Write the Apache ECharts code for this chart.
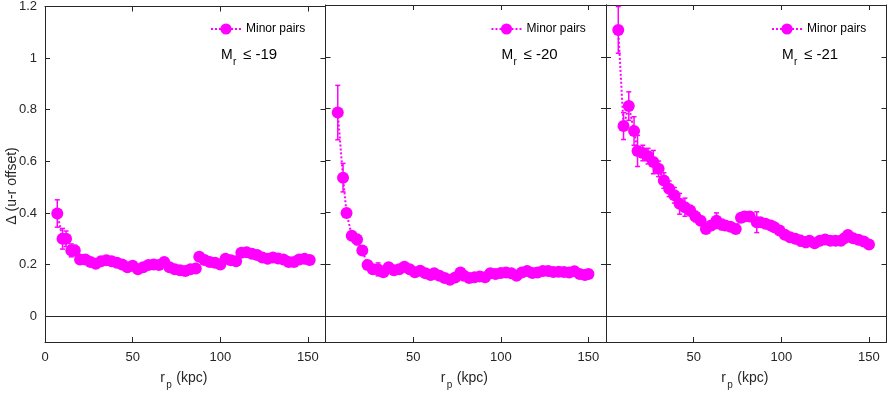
<!DOCTYPE html>
<html>
<head>
<meta charset="utf-8">
<script src="https://cdn.jsdelivr.net/npm/echarts@6/dist/echarts.min.js"></script>
<style>
html, body { margin: 0; padding: 0; background: #fff; }
#chart { width: 888px; height: 393px; }
</style>
</head>
<body>
<div id="chart"></div>
<script>
var byId = function(id){
	return document.getElementById(id);
};

// M_r <= -19
var rp19 = [7,10,12,15,17,20,23,26,29,32,35,38,41,44,47,50,53,56,59,62,65,68,71,74,77,80,83,86,88,91,94,97,100,103,106,109,112,115,118,121,124,127,130,133,136,139,142,145,148,151];
var d19 = [0.398,0.30,0.30,0.255,0.255,0.22,0.22,0.21,0.203,0.213,0.217,0.213,0.207,0.20,0.19,0.195,0.182,0.19,0.198,0.20,0.198,0.21,0.19,0.182,0.178,0.175,0.182,0.185,0.23,0.218,0.21,0.207,0.20,0.223,0.217,0.213,0.246,0.248,0.242,0.237,0.227,0.223,0.227,0.224,0.22,0.21,0.21,0.22,0.223,0.218];
var e19 = [0.053,0.04,0.03,0.025,0.02,0.012,0.012,0.012,0.012,0.012,0.012,0.012,0.012,0.012,0.012,0.012,0.012,0.012,0.012,0.012,0.012,0.012,0.012,0.012,0.012,0.012,0.012,0.012,0.012,0.012,0.012,0.012,0.012,0.012,0.012,0.012,0.012,0.012,0.012,0.012,0.012,0.012,0.012,0.012,0.012,0.012,0.012,0.012,0.012,0.012];

// M_r <= -20
var rp20 = [7,10,12,15,18,21,24,27,30,33,36,39,42,45,48,51,54,57,60,62,65,68,71,74,77,79,82,85,88,91,94,97,100,103,106,109,112,115,118,121,124,127,130,133,136,139,142,145,148,150];
var d20 = [0.785,0.534,0.398,0.31,0.295,0.253,0.197,0.181,0.18,0.169,0.188,0.177,0.181,0.19,0.181,0.169,0.175,0.165,0.158,0.165,0.156,0.147,0.14,0.149,0.168,0.156,0.147,0.15,0.153,0.15,0.165,0.162,0.166,0.168,0.165,0.156,0.168,0.174,0.166,0.168,0.174,0.174,0.17,0.171,0.17,0.168,0.173,0.162,0.158,0.162];
var e20 = [0.105,0.055,0.012,0.015,0.02,0.015,0.012,0.012,0.025,0.012,0.012,0.012,0.012,0.012,0.012,0.012,0.012,0.012,0.012,0.012,0.012,0.012,0.012,0.012,0.012,0.012,0.012,0.012,0.012,0.012,0.012,0.012,0.012,0.012,0.012,0.012,0.012,0.012,0.012,0.012,0.012,0.012,0.012,0.012,0.012,0.012,0.012,0.012,0.012,0.012];

// M_r <= -21
var rp21 = [7,10,13,16,18,21,24,27,30,33,36,39,42,45,48,51,54,57,60,63,66,68,71,74,77,79,82,86,88,91,94,96,99,102,105,108,111,114,116,119,122,125,128,131,134,136,138,141,144,147,150];
var d21 = [1.104,0.733,0.81,0.714,0.637,0.629,0.617,0.594,0.568,0.523,0.491,0.466,0.433,0.42,0.407,0.384,0.368,0.336,0.349,0.368,0.353,0.349,0.345,0.336,0.379,0.384,0.384,0.362,0.362,0.356,0.349,0.343,0.33,0.314,0.304,0.298,0.291,0.285,0.291,0.281,0.291,0.295,0.291,0.291,0.291,0.30,0.313,0.30,0.294,0.288,0.276];
var e21 = [0.09,0.052,0.055,0.055,0.06,0.03,0.03,0.045,0.03,0.03,0.03,0.03,0.04,0.035,0.02,0.02,0.015,0.015,0.015,0.03,0.02,0.015,0.015,0.015,0.015,0.015,0.015,0.04,0.015,0.015,0.015,0.015,0.015,0.015,0.015,0.015,0.02,0.02,0.015,0.015,0.015,0.015,0.015,0.015,0.015,0.015,0.015,0.015,0.015,0.015,0.015];

var magLabels = ['-19', '-20', '-21'];
var yLabels = [0, 0.2, 0.4, 0.6, 0.8, 1, 1.2];
var yTicks = [0, 0.2, 0.4, 0.6, 0.8, 1];
var xLabelsFirst = [0, 50, 100, 150];
var xLabels = [50, 100, 150];

var panels = [
	{rp: rp19, d: d19, e: e19},
	{rp: rp20, d: d20, e: e20},
	{rp: rp21, d: d21, e: e21}
];

var pink = '#ff00ff';
var axisColor = '#262626';
var font = 'Liberation Sans, Arial, sans-serif';
var gridLeft = [45, 325.5, 606];
var gridW = 280.5;

var errorBars = function(params, api){
	var x = api.value(0);
	var lo = api.coord([x, api.value(1)]);
	var hi = api.coord([x, api.value(2)]);
	var w = 2.5;
	var st = {stroke: pink, lineWidth: 1.5};
	return {
		type: 'group',
		children: [
			{type: 'line', shape: {x1: lo[0], y1: lo[1], x2: hi[0], y2: hi[1]}, style: st},
			{type: 'line', shape: {x1: lo[0] - w, y1: lo[1], x2: lo[0] + w, y2: lo[1]}, style: st},
			{type: 'line', shape: {x1: hi[0] - w, y1: hi[1], x2: hi[0] + w, y2: hi[1]}, style: st}
		]
	};
};

var grid = [], xAxis = [], yAxis = [], series = [], legend = [], graphic = [];

panels.forEach(function(p, i){
	grid.push({left: gridLeft[i], top: 5, width: gridW, height: 337});

	var tickStyle = {show: true, inside: true, length: 5, lineStyle: {color: axisColor}};
	xAxis.push({
		gridIndex: i, type: 'value', min: 0, max: 160, position: 'bottom',
		axisLine: {show: true, onZero: false, lineStyle: {color: axisColor}},
		axisTick: Object.assign({customValues: xLabels}, tickStyle),
		axisLabel: {customValues: i === 0 ? xLabelsFirst : xLabels, color: axisColor, fontSize: 13, fontFamily: font, margin: 9},
		splitLine: {show: false}
	});
	xAxis.push({
		gridIndex: i, type: 'value', min: 0, max: 160, position: 'top',
		axisLine: {show: true, onZero: false, lineStyle: {color: axisColor}},
		axisTick: Object.assign({customValues: xLabels}, tickStyle),
		axisLabel: {show: false},
		splitLine: {show: false}
	});
	yAxis.push({
		gridIndex: i, type: 'value', min: -0.1, max: 1.2, position: 'left',
		axisLine: {show: true, onZero: false, lineStyle: {color: axisColor}},
		axisTick: Object.assign({customValues: yTicks}, tickStyle),
		axisLabel: {show: i === 0, customValues: yLabels, color: axisColor, fontSize: 13, fontFamily: font, margin: 8},
		splitLine: {show: false}
	});
	yAxis.push({
		gridIndex: i, type: 'value', min: -0.1, max: 1.2, position: 'right',
		axisLine: {show: true, onZero: false, lineStyle: {color: axisColor}},
		axisTick: Object.assign({customValues: yTicks}, tickStyle),
		axisLabel: {show: false},
		splitLine: {show: false}
	});

	var pts = p.rp.map(function(r, k){ return [r, p.d[k]]; });
	var bars = p.rp.map(function(r, k){ return [r, p.d[k] - p.e[k], p.d[k] + p.e[k]]; });

	series.push({
		name: 'err' + i,
		type: 'custom',
		xAxisIndex: i * 2, yAxisIndex: i * 2,
		renderItem: errorBars,
		encode: {x: 0, y: [1, 2]},
		data: bars,
		silent: true,
		z: 3
	});
	series.push({
		name: 'Minor pairs',
		type: 'line',
		xAxisIndex: i * 2, yAxisIndex: i * 2,
		data: pts,
		symbol: 'circle',
		symbolSize: 12,
		showAllSymbol: true,
		itemStyle: {color: pink},
		lineStyle: {color: pink, width: 2, type: [2, 2]},
		markLine: {
			silent: true,
			symbol: 'none',
			label: {show: false},
			lineStyle: {color: axisColor, type: 'solid', width: 1},
			data: [{yAxis: 0}]
		},
		z: 4
	});

	legend.push({
		data: ['Minor pairs'],
		left: 210 + gridW * i,
		top: 23,
		padding: 0,
		itemWidth: 30,
		itemHeight: 14,
		itemGap: 5,
		textStyle: {color: '#000', fontSize: 12, fontFamily: font},
		selectedMode: false
	});

	var cx = gridLeft[i] + gridW / 2;
	// x axis name r_p (kpc)
	graphic.push({type: 'text', x: cx - 25, y: 371, style: {text: 'r', fontSize: 14, fontFamily: font, fill: axisColor}});
	graphic.push({type: 'text', x: cx - 19, y: 380, style: {text: 'p', fontSize: 10, fontFamily: font, fill: axisColor}});
	graphic.push({type: 'text', x: cx - 9, y: 371, style: {text: '(kpc)', fontSize: 14, fontFamily: font, fill: axisColor}});
	// M_r label
	var mx = 221 + gridW * i;
	graphic.push({type: 'text', x: mx, y: 48, style: {text: 'M', fontSize: 14, fontFamily: font, fill: '#000'}});
	graphic.push({type: 'text', x: mx + 12, y: 57, style: {text: 'r', fontSize: 10, fontFamily: font, fill: '#000'}});
	graphic.push({type: 'text', x: mx + 22, y: 47, style: {text: '\u2264 ' + magLabels[i], fontSize: 15, fontFamily: font, fill: '#000'}});
});

graphic.push({
	type: 'text', x: 12, y: 186, rotation: Math.PI / 2,
	style: {text: '\u0394 (u-r offset)', fontSize: 14, fontFamily: font, fill: axisColor, align: 'center', verticalAlign: 'middle'}
});

var chartOption = {
	animation: false,
	backgroundColor: '#fff',
	grid: grid,
	xAxis: xAxis,
	yAxis: yAxis,
	legend: legend,
	series: series,
	graphic: graphic
};

var chart = echarts.init(byId('chart'));
chart.setOption(chartOption);
</script>
</body>
</html>
